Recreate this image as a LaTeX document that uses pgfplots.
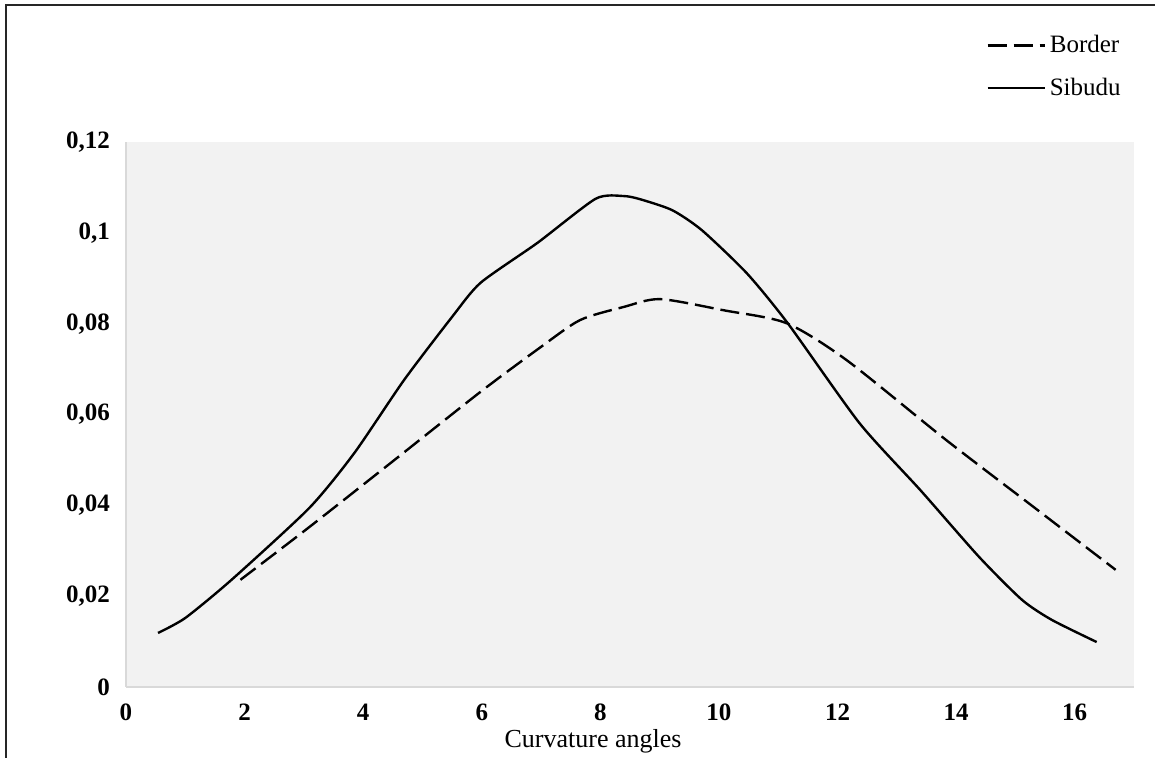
\documentclass[border=0pt]{standalone}
\usepackage{fontspec}
\setmainfont{Liberation Serif}
\usepackage{pgfplots}
\pgfplotsset{compat=1.18}
\definecolor{bgc}{HTML}{F2F2F2}
\definecolor{axc}{HTML}{D9D9D9}
\begin{document}
\begin{tikzpicture}
\path[use as bounding box] (-63pt,-35.5pt) rectangle (514.5pt,343.5pt);
\begin{axis}[
  at={(0,0)}, anchor=south west,
  scale only axis, width=504pt, height=272.5pt,
  xmin=0, xmax=17, ymin=0, ymax=0.12,
  axis x line*=bottom, axis y line*=left,
  axis background/.style={fill=bgc},
  axis line style={draw=axc, line width=1pt, -},
  xtick={0,2,4,6,8,10,12,14,16},
  ytick={0,0.02,0.04,0.06,0.08,0.1,0.12},
  major tick length=0pt,
  tick style={draw=none},
  scaled y ticks=false,
  /pgf/number format/assume math mode=true,
  yticklabel style={/pgf/number format/fixed, /pgf/number format/use comma, /pgf/number format/precision=2, xshift=-4.5pt},
  tick label style={font=\bfseries\fontsize{12.5}{14}\selectfont},
  xticklabel style={yshift=-5pt},
  xlabel={Curvature angles},
  xlabel style={at={(axis description cs:0.4633,0)}, anchor=center, yshift=-27pt, font=\fontsize{13}{15}\selectfont},
  legend style={draw=none, fill=none, at={(rel axis cs:0.8532,1.2036)}, anchor=north west,
    font=\fontsize{12.5}{14}\selectfont, row sep=7pt, inner sep=0pt},
  legend cell align=left,
  legend image code/.code={\draw[#1] (0pt,0pt) -- (28.5pt,0pt);},
]
\addplot[black, line width=1.2pt, dash pattern=on 9.5pt off 3.5pt, smooth, tension=0.45] coordinates {
(1.93,0.0236) (3.09,0.0352) (4.5,0.0497) (5.98,0.065) (6.99,0.0748) (7.66,0.0808)
(8.4,0.0837) (9.01,0.0854) (10.1,0.0829) (11.14,0.0801) (12.15,0.0720) (13.83,0.0544) (15.3,0.0397) (16.69,0.0258)
};
\addlegendentry{Border}
\addplot[black, line width=1.2pt, smooth, tension=0.4] coordinates {
(0.54,0.0119) (1.0,0.0152) (1.78,0.0236) (3.09,0.0394) (3.85,0.0515) (4.69,0.0676)
(5.5,0.0815) (5.98,0.089) (6.94,0.0978) (7.92,0.1075) (8.39,0.1081) (8.67,0.1074)
(9.21,0.1050) (9.71,0.1006) (10.47,0.0911) (11.16,0.0801) (12.37,0.0581) (13.4,0.0433)
(14.39,0.0286) (15.11,0.0192) (15.61,0.0148) (16.37,0.0099)
};
\addlegendentry{Sibudu}
\end{axis}
\draw[line width=1pt, black!85] (-60pt,-35.5pt) -- (-60pt,341pt) -- (514.5pt,341pt);
\end{tikzpicture}
\end{document}
